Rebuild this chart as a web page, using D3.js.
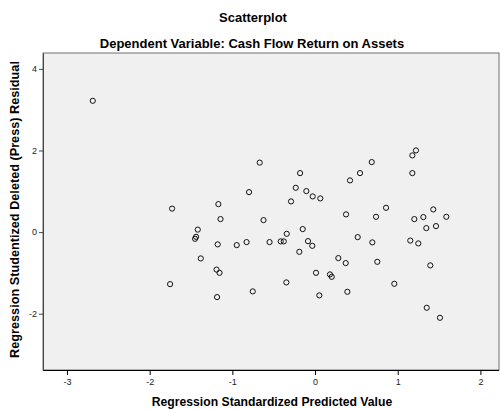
<!DOCTYPE html>
<html>
<head>
<meta charset="utf-8">
<script src="https://cdn.jsdelivr.net/npm/d3@7"></script>
<style>
  html, body { margin: 0; padding: 0; background: #fff; }
  svg { display: block; font-family: "Liberation Sans", Arial, sans-serif; }
</style>
</head>
<body>
<svg id="chart" width="500" height="409"></svg>
<script>
const title = "Scatterplot";
const subtitle = "Dependent Variable: Cash Flow Return on Assets";
const xTitle = "Regression Standardized Predicted Value";
const yTitle = "Regression Studentized Deleted (Press) Residual";
const xTicks = [-3, -2, -1, 0, 1, 2];
const yTicks = [-2, 0, 2, 4];

// Regression standardized predicted value
const predicted = [
  -2.688, -0.669, -0.798, -1.729, -1.169, -1.143, -0.623, -1.418, -1.439, -1.451,
  -0.181, 0.686, 0.544, 0.423, -0.233, -0.105, -0.028, 0.064, -0.290, 0.859,
  0.375, 0.738, -0.149, -0.342, 0.516, 1.221, 1.177, 1.177, 1.430, 1.310,
  1.588, 1.201, 1.463, 1.346, 1.152, -1.177, -0.947, -0.828, -0.550, -1.382,
  -1.191, -1.155, -1.753, -0.753, -1.185, -0.415, -0.378, -0.085, -0.033, -0.190,
  0.693, 0.282, 0.371, 0.753, 0.012, 0.181, 0.202, -0.347, 0.959, 0.391,
  0.052, 1.249, 1.394, 1.351, 1.511
];
// Regression studentized deleted (press) residual
const residual = [
  3.218, 1.703, 0.980, 0.576, 0.686, 0.319, 0.294, 0.061, -0.115, -0.164,
  1.446, 1.716, 1.446, 1.267, 1.086, 1.005, 0.875, 0.826, 0.752, 0.596,
  0.434, 0.375, 0.074, -0.042, -0.123, 2.002, 1.880, 1.446, 0.556, 0.368,
  0.375, 0.319, 0.147, 0.098, -0.208, -0.301, -0.319, -0.245, -0.245, -0.645,
  -0.919, -0.998, -1.275, -1.453, -1.593, -0.228, -0.228, -0.221, -0.336, -0.483,
  -0.252, -0.637, -0.760, -0.728, -0.998, -1.037, -1.096, -1.233, -1.267, -1.463,
  -1.551, -0.277, -0.816, -1.855, -2.100
];

const points = predicted.map((x, i) => ({x, y: residual[i]}));

const svg = d3.select("#chart");
const plot = {left: 43, top: 53, right: 499, bottom: 370};

const x = d3.scaleLinear().domain([-3.29, 2.225]).range([plot.left, plot.right]);
const y = d3.scaleLinear().domain([-3.38, 4.39]).range([plot.bottom, plot.top]);

// plot background
svg.append("rect")
  .attr("x", plot.left).attr("y", plot.top)
  .attr("width", plot.right - plot.left).attr("height", plot.bottom - plot.top)
  .attr("fill", "#f0f0f0")
  .attr("stroke", "#6e6e6e").attr("stroke-width", 1);

// axes
const xAxis = svg.append("g")
  .attr("transform", `translate(0,${plot.bottom})`)
  .call(d3.axisBottom(x).tickValues(xTicks).tickSize(5).tickSizeOuter(0).tickFormat(d3.format("d")));
xAxis.select(".domain").attr("stroke", "#000").attr("d", `M${plot.left},0.5H${plot.right}`);
xAxis.selectAll(".tick line").attr("stroke", "#000");
xAxis.selectAll(".tick text")
  .attr("font-size", 9).attr("font-family", "Liberation Sans, Arial, sans-serif")
  .attr("fill", "#222").attr("dy", "0.85em").attr("y", 7)
  .text(d => d < 0 ? "-" + Math.abs(d) : d);

const yAxis = svg.append("g")
  .attr("transform", `translate(${plot.left},0)`)
  .call(d3.axisLeft(y).tickValues(yTicks).tickSize(4).tickSizeOuter(0).tickFormat(d3.format("d")));
yAxis.select(".domain").attr("stroke", "#444");
yAxis.selectAll(".tick line").attr("stroke", "#444");
yAxis.selectAll(".tick text")
  .attr("font-size", 9).attr("font-family", "Liberation Sans, Arial, sans-serif")
  .attr("fill", "#222").attr("x", -6)
  .text(d => d < 0 ? "-" + Math.abs(d) : d);

// points
svg.append("g").selectAll("circle")
  .data(points).join("circle")
  .attr("cx", d => x(d.x)).attr("cy", d => y(d.y))
  .attr("r", 2.6)
  .attr("fill", "none")
  .attr("stroke", "#111").attr("stroke-width", 1);

// titles
svg.append("text").attr("x", 253).attr("y", 22)
  .attr("text-anchor", "middle").attr("font-size", 13).attr("font-weight", "bold")
  .text(title);
svg.append("text").attr("x", 252).attr("y", 48)
  .attr("text-anchor", "middle").attr("font-size", 13).attr("font-weight", "bold")
  .text(subtitle);
svg.append("text").attr("x", (plot.left + plot.right) / 2 + 1).attr("y", 406)
  .attr("text-anchor", "middle").attr("font-size", 12.2).attr("font-weight", "bold")
  .text(xTitle);
svg.append("text")
  .attr("transform", `translate(19,${(plot.top + plot.bottom) / 2 - 2}) rotate(-90)`)
  .attr("text-anchor", "middle").attr("font-size", 12.7).attr("font-weight", "bold")
  .text(yTitle);
</script>
</body>
</html>
